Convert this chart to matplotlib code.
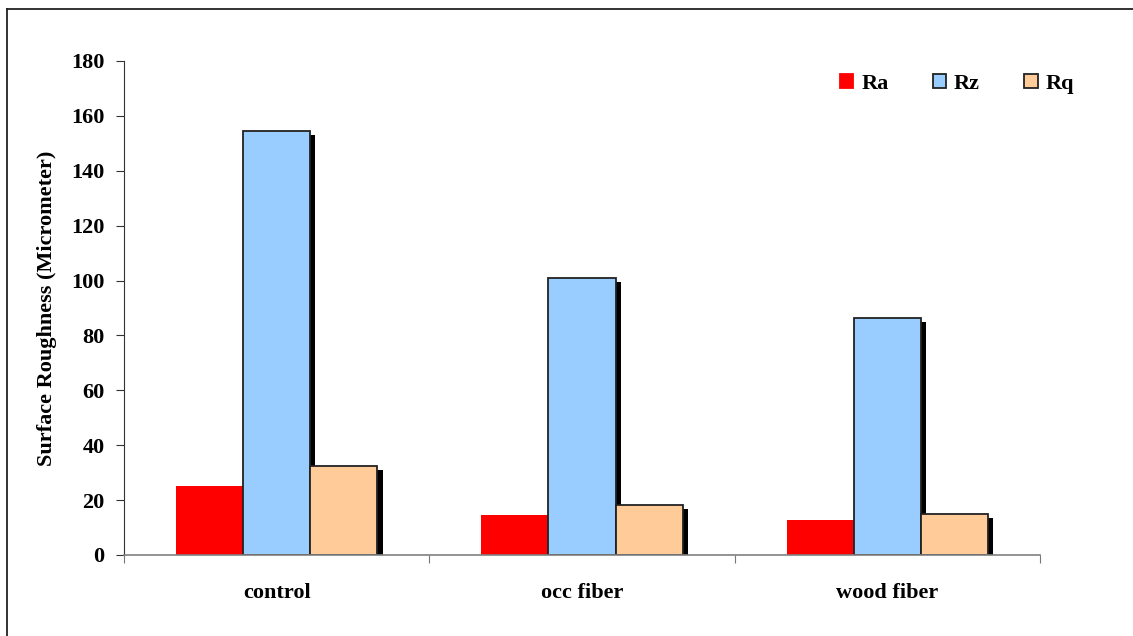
import matplotlib
matplotlib.use("Agg")
import matplotlib.pyplot as plt
import numpy as np
from matplotlib.lines import Line2D
from matplotlib.patches import Patch

categories = ["control", "occ fiber", "wood fiber"]
series_names = ["Ra", "Rz", "Rq"]
ra = [25.2, 14.6, 12.8]
rz = [154.5, 100.9, 86.4]
rq = [32.4, 18.2, 14.9]
series_values = [ra, rz, rq]
yticks = [0, 20, 40, 60, 80, 100, 120, 140, 160, 180]

colors = ["#ff0000", "#99ccff", "#ffcc99"]
edges = ["none", "#222222", "#222222"]

plt.rcParams["font.family"] = ["Liberation Serif", "DejaVu Serif"]
plt.rcParams["font.weight"] = "bold"

fig = plt.figure(figsize=(11.33, 6.36), dpi=100)
ax = fig.add_axes([124 / 1133, 1 - 555 / 636, (1040 - 124) / 1133, (555 - 61) / 636])

x = np.arange(len(categories))
w = 0.22
offsets = [-w, 0, w]
# shadows (offset right and down)
for vals, off in zip(series_values, offsets):
    ax.bar(x + off + 0.017, [v - 1.4 for v in vals], w, bottom=0, color="black", zorder=1)
for vals, off, c, e in zip(series_values, offsets, colors, edges):
    ax.bar(x + off, vals, w, color=c, edgecolor=e,
           linewidth=1.3 if e != "none" else 0, zorder=2)
ax.set_ylim(0, 180)
ax.set_xlim(-0.5, 2.5)
ax.set_yticks(yticks)
ax.set_yticklabels([str(t) for t in yticks], fontsize=16, fontweight="bold")
ax.set_xticks([-0.5, 0.5, 1.5, 2.5])
ax.set_xticklabels([])
ax.set_xticks(x, minor=True)
ax.set_xticklabels(categories, minor=True, fontsize=16, fontweight="bold")
ax.tick_params(axis="x", which="minor", length=0, pad=20)
ax.tick_params(axis="x", which="major", length=6, color="#777777", direction="out")
ax.tick_params(axis="y", length=6, direction="out", color="#333333", pad=8)
for s in ["top", "right"]:
    ax.spines[s].set_visible(False)
ax.spines["bottom"].set_color("#808080")
ax.spines["bottom"].set_linewidth(1.2)
ax.spines["bottom"].set_zorder(3)
ax.spines["left"].set_color("#333333")
ax.set_ylabel("Surface Roughness (Micrometer)", fontsize=16, fontweight="bold", labelpad=10)

handles = [Patch(facecolor=c, edgecolor=(e if e != "none" else c), linewidth=1.3)
           for c, e in zip(colors, edges)]
leg = fig.legend(handles, series_names, loc="center", bbox_to_anchor=(957 / 1133, 1 - 84 / 636),
                 ncol=3, frameon=False, fontsize=16, handlelength=0.6, handleheight=0.6,
                 columnspacing=2.0, handletextpad=0.35)
for t in leg.get_texts():
    t.set_fontweight("bold")

fig.add_artist(Line2D([7 / 1133, 7 / 1133], [0, 1 - 9 / 636], transform=fig.transFigure,
                      color="#222222", linewidth=1.3))
fig.add_artist(Line2D([7 / 1133, 1], [1 - 9 / 636, 1 - 9 / 636], transform=fig.transFigure,
                      color="#222222", linewidth=1.3))

fig.savefig("out.png", dpi=100)
